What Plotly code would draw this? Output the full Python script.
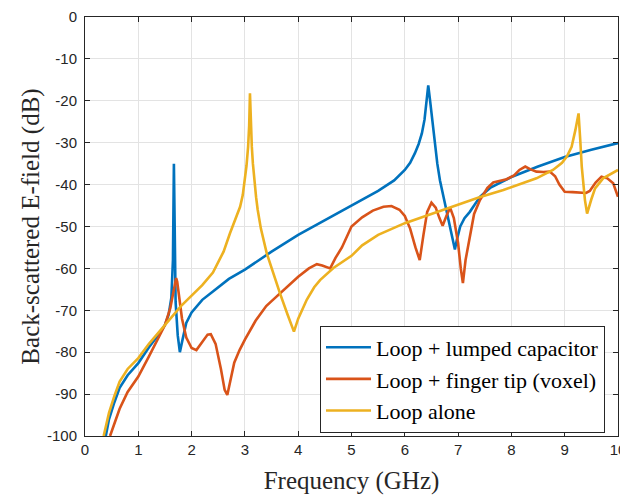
import plotly.graph_objects as go

# Loop + lumped capacitor
cap_f = [0.39, 0.45, 0.55, 0.65, 0.8, 1.0, 1.2, 1.4, 1.5, 1.57, 1.62, 1.65, 1.668, 1.68, 1.7,
         1.74, 1.78, 1.83, 1.9, 2.0, 2.2, 2.4, 2.7, 3.0, 3.5, 4.0, 4.5, 5.0, 5.5, 5.8, 6.0,
         6.1, 6.19, 6.26, 6.32, 6.37, 6.41, 6.44, 6.47, 6.5, 6.54, 6.57, 6.61, 6.66, 6.75,
         6.85, 6.94, 6.98, 7.04, 7.12, 7.22, 7.3, 7.41, 7.6, 8.0, 8.5, 9.0, 9.5, 10.0]
cap_db = [-100, -96, -92, -88.5, -85.5, -82.6, -78.8, -75.5, -73.5, -71, -67, -58, -35, -55, -68,
          -76, -80, -77, -73, -70.5, -67.5, -65.5, -62.5, -60.3, -56, -52, -48.5, -45, -41.5, -39, -36.5,
          -34.8, -32.5, -30.3, -27.8, -24.5, -19.8, -16.3, -19.5, -23, -27.5, -31, -35, -39, -44.5,
          -50, -55.5, -53, -50, -48, -46.5, -45, -42.9, -40.8, -38.2, -35.7, -33.4, -31.7, -30.1]

# Loop + finger tip (voxel)
fin_f = [0.47, 0.55, 0.65, 0.8, 1.0, 1.2, 1.4, 1.5, 1.6, 1.66, 1.69, 1.71, 1.73, 1.76, 1.82, 1.9, 2.0,
         2.09, 2.2, 2.3, 2.36, 2.45, 2.55, 2.62, 2.67, 2.72, 2.8, 2.9, 3.0, 3.2, 3.4, 3.5,
         3.7, 4.0, 4.2, 4.35, 4.45, 4.6, 4.7, 4.82, 5.0, 5.2, 5.4, 5.6, 5.75, 5.9, 6.0,
         6.1, 6.2, 6.28, 6.35, 6.42, 6.5, 6.58, 6.65, 6.71, 6.78, 6.85, 6.92, 7.0, 7.05, 7.09,
         7.14, 7.22, 7.3, 7.41, 7.55, 7.66, 7.8, 7.91, 8.05, 8.15, 8.26, 8.35, 8.47, 8.6, 8.72,
         8.82, 8.9, 9.0, 9.15, 9.29, 9.4, 9.47, 9.58, 9.69, 9.8, 9.91, 10.0]
fin_db = [-100, -97, -93.5, -89.5, -85.8, -81, -76, -73.5, -69.5, -65.5, -63, -62.3, -63.2, -66, -72, -76.5, -79,
          -79.5, -77.5, -75.8, -75.7, -78, -84, -89, -90.2, -87, -82.5, -79.5, -77, -72.5, -69, -67.8,
          -65.5, -62, -60, -59, -59.3, -60, -57.5, -55, -50, -47.8, -46.2, -45.3, -45.1, -46, -47.5,
          -50.5, -55, -58, -52, -46.5, -44.3, -45.5, -48, -49.8, -47.5, -45.5, -48, -54, -60, -63.5,
          -58, -52, -47, -43.7, -40.8, -39.5, -39, -38.7, -37.8, -36.5, -35.7, -36.3, -36.9, -37, -36.9,
          -38, -40, -41.7, -41.8, -42, -42, -41.5, -39.5, -38.1, -38.5, -39.7, -42.9]

# Loop alone
alone_f = [0.35, 0.45, 0.55, 0.65, 0.8, 1.0, 1.2, 1.4, 1.5, 1.7, 1.8, 2.0, 2.2, 2.4, 2.6,
           2.72, 2.83, 2.91, 2.96, 3.0, 3.03, 3.06, 3.08, 3.095, 3.11, 3.13, 3.15, 3.18, 3.21, 3.24,
           3.3, 3.41, 3.55, 3.66, 3.8, 3.92, 4.0, 4.16, 4.3, 4.41, 4.66, 5.0, 5.2, 5.5, 6.0, 6.5,
           7.0, 7.4, 7.85, 8.2, 8.47, 8.78, 8.95, 9.04, 9.13, 9.2, 9.24, 9.26, 9.29, 9.32, 9.38,
           9.42, 9.5, 9.57, 9.72, 9.85, 10.0]
alone_db = [-100, -94.5, -90.5, -87, -84, -81.4, -78, -75, -73.5, -70.7, -69, -66.5, -64, -61, -56,
            -51.6, -48, -45.3, -42.5, -39, -35.5, -31, -26, -18.2, -25, -31, -35, -39.5, -43, -46,
            -50.5, -56.4, -62, -66, -71, -75.1, -72, -67.5, -64.5, -62.8, -59.9, -57, -54.5, -52, -49.2, -47,
            -44.8, -43, -41.3, -39.8, -38.5, -36.5, -34.8, -33.3, -31, -27, -24.5, -23, -29, -35.7, -43.7,
            -46.9, -43.5, -40.9, -38.5, -37.5, -36.5]

x_ticks = list(range(0, 11))
y_ticks = list(range(-100, 1, 10))
y_tick_text = [str(v) for v in y_ticks]

series = [
    ("Loop + lumped capacitor", cap_f, cap_db, "#0072BD"),
    ("Loop + finger tip (voxel)", fin_f, fin_db, "#D95319"),
    ("Loop alone", alone_f, alone_db, "#EDB120"),
]

fig = go.Figure()
for name, f, db, col in series:
    fig.add_trace(go.Scatter(x=f, y=db, mode="lines", name=name,
                             line=dict(color=col, width=2.6)))

axis_common = dict(
    showline=True, linecolor="#262626", linewidth=1, mirror="ticks",
    ticks="inside", ticklen=5, tickcolor="#262626",
    showgrid=True, gridcolor="#e3e3e3", gridwidth=1, zeroline=False,
    automargin=False,
    tickfont=dict(family="Liberation Sans, Arial", size=15, color="#262626"),
)

# the page body adds 8px around the figure, so the figure is 8px smaller
fig.update_layout(
    width=620, height=487,
    margin=dict(l=77, r=10, t=9, b=59),
    paper_bgcolor="white", plot_bgcolor="white",
    xaxis=dict(range=[0, 10], tickvals=x_ticks, **axis_common,
               title=dict(text="Frequency (GHz)", standoff=14,
                          font=dict(family="Liberation Serif, Times New Roman", size=25, color="#262626"))),
    yaxis=dict(range=[-100, 0], tickvals=y_ticks, ticktext=y_tick_text, ticklabelstandoff=4,
               **axis_common,
               title=dict(text="Back-scattered E-field (dB)", standoff=0,
                          font=dict(family="Liberation Serif, Times New Roman", size=25, color="#262626"))),
    legend=dict(x=0.9756, y=0.136, xanchor="right", yanchor="middle",
                bgcolor="white", bordercolor="#262626", borderwidth=1,
                font=dict(family="Liberation Serif, Times New Roman", size=22, color="#000000"),
                itemwidth=45, tracegroupgap=0),
    showlegend=True,
)

fig.write_html("out.html")
